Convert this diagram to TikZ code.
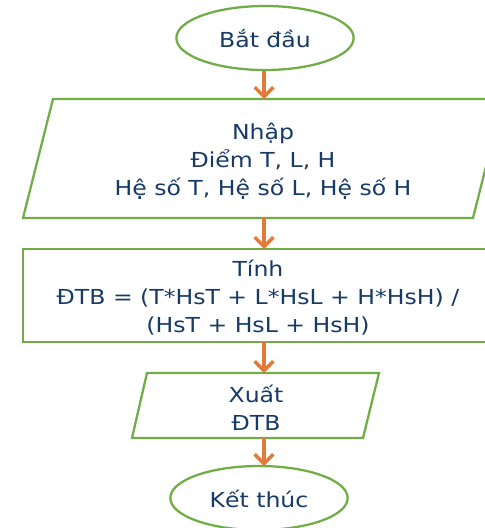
\documentclass[tikz,border=0pt]{standalone}
\usepackage{fontspec}
\setmainfont[FakeStretch=1.14]{DejaVu Sans}
\usetikzlibrary{arrows.meta,shapes.geometric}
\definecolor{shapegreen}{HTML}{70AD47}
\definecolor{arrorange}{HTML}{E07B39}
\definecolor{txtblue}{HTML}{173A66}
\tikzset{
  outline/.style={draw=shapegreen, line width=1.7pt, fill=white, line join=miter},
  term/.style={ellipse, outline, minimum width=133pt, minimum height=48pt, inner sep=0pt},
  label/.style={text=txtblue, align=center, inner sep=0pt, font=\fontsize{15.5pt}{21pt}\selectfont},
  arr/.style={draw=arrorange, line width=2.6pt, -{Straight Barb[length=7pt,width=14pt]}}
}
\begin{document}
\begin{tikzpicture}[x=0.75pt,y=-0.75pt]
\useasboundingbox (0,0) rectangle (485,528);
\begin{scope}
\clip (0,0) rectangle (485,528);
% start
\node[term] (start) at (265,38) {};
\node[label] (starttext) at (265,39) {Bắt đầu};
% input
\draw[outline] (53,99) -- (503,99) -- (473,218) -- (23,218) -- cycle;
\coordinate (p1t) at (264,99);
\coordinate (p1b) at (264,218);
\node[label] (in1) at (263,161) {Nhập\\Điểm T, L, H\\Hệ số T, Hệ số L, Hệ số H};
% process
\draw[outline] (23,249) rectangle (495,342);
\coordinate (rt) at (264,249);
\coordinate (rb) at (264,342);
\node[label] (calc) at (258,298) {Tính\\ĐTB = (T*HsT + L*HsL + H*HsH) /\\(HsT + HsL + HsH)};
% output
\draw[outline] (147,373) -- (379,373) -- (363,438) -- (132,438) -- cycle;
\coordinate (p2t) at (264,373);
\coordinate (p2b) at (264,438);
\node[label] (out) at (256,408) {Xuất\\ĐTB};
% end
\node[term] (end) at (259,498) {};
\node[label] (endtext) at (259,499) {Kết thúc};
\coordinate (et) at (264,466);
% arrows
\draw[arr] (start.south -| p1t) -- (p1t);
\draw[arr] (p1b) -- (rt);
\draw[arr] (rb) -- (p2t);
\draw[arr] (p2b) -- (et);
\end{scope}
\end{tikzpicture}
\end{document}
